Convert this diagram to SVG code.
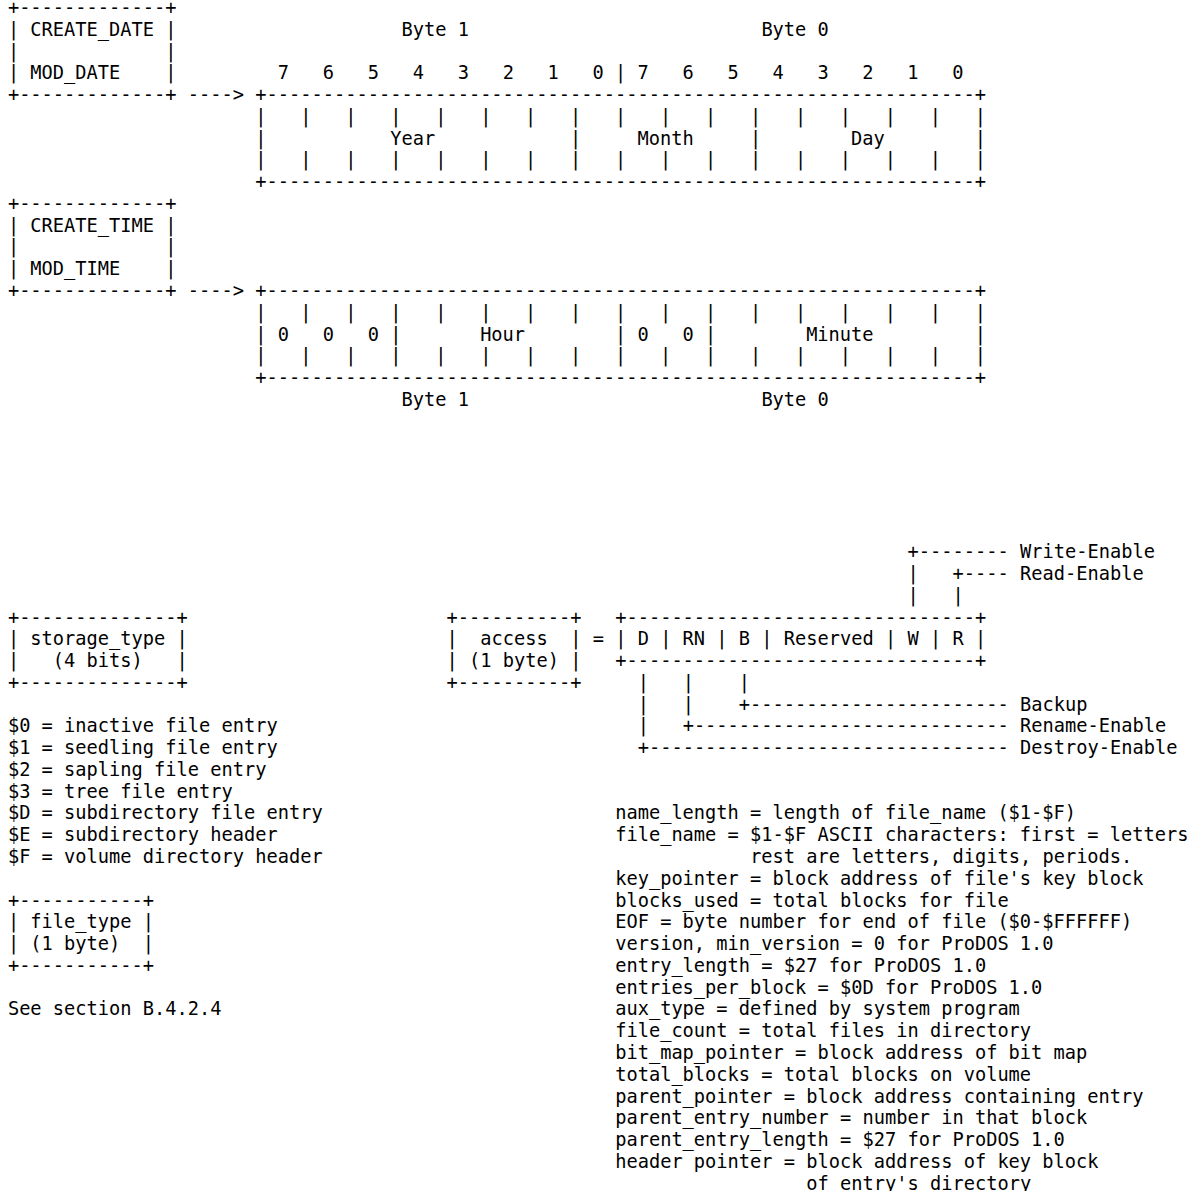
<svg xmlns="http://www.w3.org/2000/svg" width="1199" height="1191" viewBox="0 0 1199 1191">
<style>
.t{font-family:"DejaVu Sans Mono",monospace;font-size:18.68px;fill:#000}
</style>
<rect width="1199" height="1191" fill="#fff"/>
<g id="date-field" class="t">
<text x="7.9" y="14.00">+-------------+</text>
<text x="7.9" y="35.77">| CREATE_DATE |</text>
<text x="7.9" y="57.54">|&#160;&#160;&#160;&#160;&#160;&#160;&#160;&#160;&#160;&#160;&#160;&#160;&#160;|</text>
<text x="7.9" y="79.31">| MOD_DATE&#160;&#160;&#160;&#160;|</text>
<text x="7.9" y="101.08">+-------------+</text>
</g>
<g id="date-layout" class="t">
<text x="401.51" y="35.77">Byte 1</text>
<text x="761.38" y="35.77">Byte 0</text>
<text x="277.80" y="79.31">7&#160;&#160;&#160;6&#160;&#160;&#160;5&#160;&#160;&#160;4&#160;&#160;&#160;3&#160;&#160;&#160;2&#160;&#160;&#160;1&#160;&#160;&#160;0&#160;|&#160;7&#160;&#160;&#160;6&#160;&#160;&#160;5&#160;&#160;&#160;4&#160;&#160;&#160;3&#160;&#160;&#160;2&#160;&#160;&#160;1&#160;&#160;&#160;0</text>
<text x="255.31" y="101.08">+---------------------------------------------------------------+</text>
<text x="255.31" y="122.85">|&#160;&#160;&#160;|&#160;&#160;&#160;|&#160;&#160;&#160;|&#160;&#160;&#160;|&#160;&#160;&#160;|&#160;&#160;&#160;|&#160;&#160;&#160;|&#160;&#160;&#160;|&#160;&#160;&#160;|&#160;&#160;&#160;|&#160;&#160;&#160;|&#160;&#160;&#160;|&#160;&#160;&#160;|&#160;&#160;&#160;|&#160;&#160;&#160;|&#160;&#160;&#160;|</text>
<text x="255.31" y="144.62">|&#160;&#160;&#160;&#160;&#160;&#160;&#160;&#160;&#160;&#160;&#160;Year&#160;&#160;&#160;&#160;&#160;&#160;&#160;&#160;&#160;&#160;&#160;&#160;|&#160;&#160;&#160;&#160;&#160;Month&#160;&#160;&#160;&#160;&#160;|&#160;&#160;&#160;&#160;&#160;&#160;&#160;&#160;Day&#160;&#160;&#160;&#160;&#160;&#160;&#160;&#160;|</text>
<text x="255.31" y="166.39">|&#160;&#160;&#160;|&#160;&#160;&#160;|&#160;&#160;&#160;|&#160;&#160;&#160;|&#160;&#160;&#160;|&#160;&#160;&#160;|&#160;&#160;&#160;|&#160;&#160;&#160;|&#160;&#160;&#160;|&#160;&#160;&#160;|&#160;&#160;&#160;|&#160;&#160;&#160;|&#160;&#160;&#160;|&#160;&#160;&#160;|&#160;&#160;&#160;|&#160;&#160;&#160;|</text>
<text x="255.31" y="188.16">+---------------------------------------------------------------+</text>
</g>
<g id="time-field" class="t">
<text x="7.9" y="209.93">+-------------+</text>
<text x="7.9" y="231.70">| CREATE_TIME |</text>
<text x="7.9" y="253.47">|&#160;&#160;&#160;&#160;&#160;&#160;&#160;&#160;&#160;&#160;&#160;&#160;&#160;|</text>
<text x="7.9" y="275.24">| MOD_TIME&#160;&#160;&#160;&#160;|</text>
<text x="7.9" y="297.01">+-------------+</text>
</g>
<g id="time-layout" class="t">
<text x="255.31" y="297.01">+---------------------------------------------------------------+</text>
<text x="255.31" y="318.78">|&#160;&#160;&#160;|&#160;&#160;&#160;|&#160;&#160;&#160;|&#160;&#160;&#160;|&#160;&#160;&#160;|&#160;&#160;&#160;|&#160;&#160;&#160;|&#160;&#160;&#160;|&#160;&#160;&#160;|&#160;&#160;&#160;|&#160;&#160;&#160;|&#160;&#160;&#160;|&#160;&#160;&#160;|&#160;&#160;&#160;|&#160;&#160;&#160;|&#160;&#160;&#160;|</text>
<text x="255.31" y="340.55">|&#160;0&#160;&#160;&#160;0&#160;&#160;&#160;0&#160;|&#160;&#160;&#160;&#160;&#160;&#160;&#160;Hour&#160;&#160;&#160;&#160;&#160;&#160;&#160;&#160;|&#160;0&#160;&#160;&#160;0&#160;|&#160;&#160;&#160;&#160;&#160;&#160;&#160;&#160;Minute&#160;&#160;&#160;&#160;&#160;&#160;&#160;&#160;&#160;|</text>
<text x="255.31" y="362.32">|&#160;&#160;&#160;|&#160;&#160;&#160;|&#160;&#160;&#160;|&#160;&#160;&#160;|&#160;&#160;&#160;|&#160;&#160;&#160;|&#160;&#160;&#160;|&#160;&#160;&#160;|&#160;&#160;&#160;|&#160;&#160;&#160;|&#160;&#160;&#160;|&#160;&#160;&#160;|&#160;&#160;&#160;|&#160;&#160;&#160;|&#160;&#160;&#160;|&#160;&#160;&#160;|</text>
<text x="255.31" y="384.09">+---------------------------------------------------------------+</text>
<text x="401.51" y="405.86">Byte 1</text>
<text x="761.38" y="405.86">Byte 0</text>
</g>
<g id="storage-type" class="t">
<text x="7.9" y="623.56">+--------------+</text>
<text x="7.9" y="645.33">| storage_type |</text>
<text x="7.9" y="667.10">|&#160;&#160;&#160;(4 bits)&#160;&#160;&#160;|</text>
<text x="7.9" y="688.87">+--------------+</text>
</g>
<g id="storage-values" class="t">
<text x="7.9" y="732.41">$0 = inactive file entry</text>
<text x="7.9" y="754.18">$1 = seedling file entry</text>
<text x="7.9" y="775.95">$2 = sapling file entry</text>
<text x="7.9" y="797.72">$3 = tree file entry</text>
<text x="7.9" y="819.49">$D = subdirectory file entry</text>
<text x="7.9" y="841.26">$E = subdirectory header</text>
<text x="7.9" y="863.03">$F = volume directory header</text>
</g>
<g id="file-type" class="t">
<text x="7.9" y="906.57">+-----------+</text>
<text x="7.9" y="928.34">| file_type |</text>
<text x="7.9" y="950.11">| (1 byte)&#160;&#160;|</text>
<text x="7.9" y="971.88">+-----------+</text>
<text x="7.9" y="1015.42">See section B.4.2.4</text>
</g>
<g id="access" class="t">
<text x="446.49" y="623.56">+----------+</text>
<text x="446.49" y="645.33">|&#160;&#160;access&#160;&#160;|</text>
<text x="446.49" y="667.10">| (1 byte) |</text>
<text x="446.49" y="688.87">+----------+</text>
<text x="592.69" y="645.33">=</text>
</g>
<g id="access-bits" class="t">
<text x="615.18" y="623.56">+-------------------------------+</text>
<text x="615.18" y="645.33">| D | RN | B | Reserved | W | R |</text>
<text x="615.18" y="667.10">+-------------------------------+</text>
</g>
<g id="access-labels" class="t">
<text x="1020.04" y="558.25">Write-Enable</text>
<text x="1020.04" y="580.02">Read-Enable</text>
<text x="1020.04" y="710.64">Backup</text>
<text x="1020.04" y="732.41">Rename-Enable</text>
<text x="1020.04" y="754.18">Destroy-Enable</text>
</g>
<g id="field-definitions" class="t">
<text x="615.18" y="819.49">name_length = length of file_name ($1-$F)</text>
<text x="615.18" y="841.26">file_name = $1-$F ASCII characters: first = letters</text>
<text x="750.14" y="863.03">rest are letters, digits, periods.</text>
<text x="615.18" y="884.80">key_pointer = block address of file's key block</text>
<text x="615.18" y="906.57">blocks_used = total blocks for file</text>
<text x="615.18" y="928.34">EOF = byte number for end of file ($0-$FFFFFF)</text>
<text x="615.18" y="950.11">version, min_version = 0 for ProDOS 1.0</text>
<text x="615.18" y="971.88">entry_length = $27 for ProDOS 1.0</text>
<text x="615.18" y="993.65">entries_per_block = $0D for ProDOS 1.0</text>
<text x="615.18" y="1015.42">aux_type = defined by system program</text>
<text x="615.18" y="1037.19">file_count = total files in directory</text>
<text x="615.18" y="1058.96">bit_map_pointer = block address of bit map</text>
<text x="615.18" y="1080.73">total_blocks = total blocks on volume</text>
<text x="615.18" y="1102.50">parent_pointer = block address containing entry</text>
<text x="615.18" y="1124.27">parent_entry_number = number in that block</text>
<text x="615.18" y="1146.04">parent_entry_length = $27 for ProDOS 1.0</text>
<text x="615.18" y="1167.81">header pointer = block address of key block</text>
<text x="806.37" y="1189.58">of entry's directory</text>
</g>
<g id="connectors" class="t">
<text x="187.84" y="101.08">----&gt;</text>
<text x="187.84" y="297.01">----&gt;</text>
<text x="907.58" y="558.25">+--------</text>
<text x="907.58" y="580.02">|&#160;&#160;&#160;+----</text>
<text x="907.58" y="601.79">|&#160;&#160;&#160;|</text>
<text x="637.68" y="688.87">|&#160;&#160;&#160;|&#160;&#160;&#160;&#160;|</text>
<text x="637.68" y="710.64">|&#160;&#160;&#160;|&#160;&#160;&#160;&#160;+-----------------------</text>
<text x="637.68" y="732.41">|&#160;&#160;&#160;+----------------------------</text>
<text x="637.68" y="754.18">+--------------------------------</text>
</g>
</svg>
